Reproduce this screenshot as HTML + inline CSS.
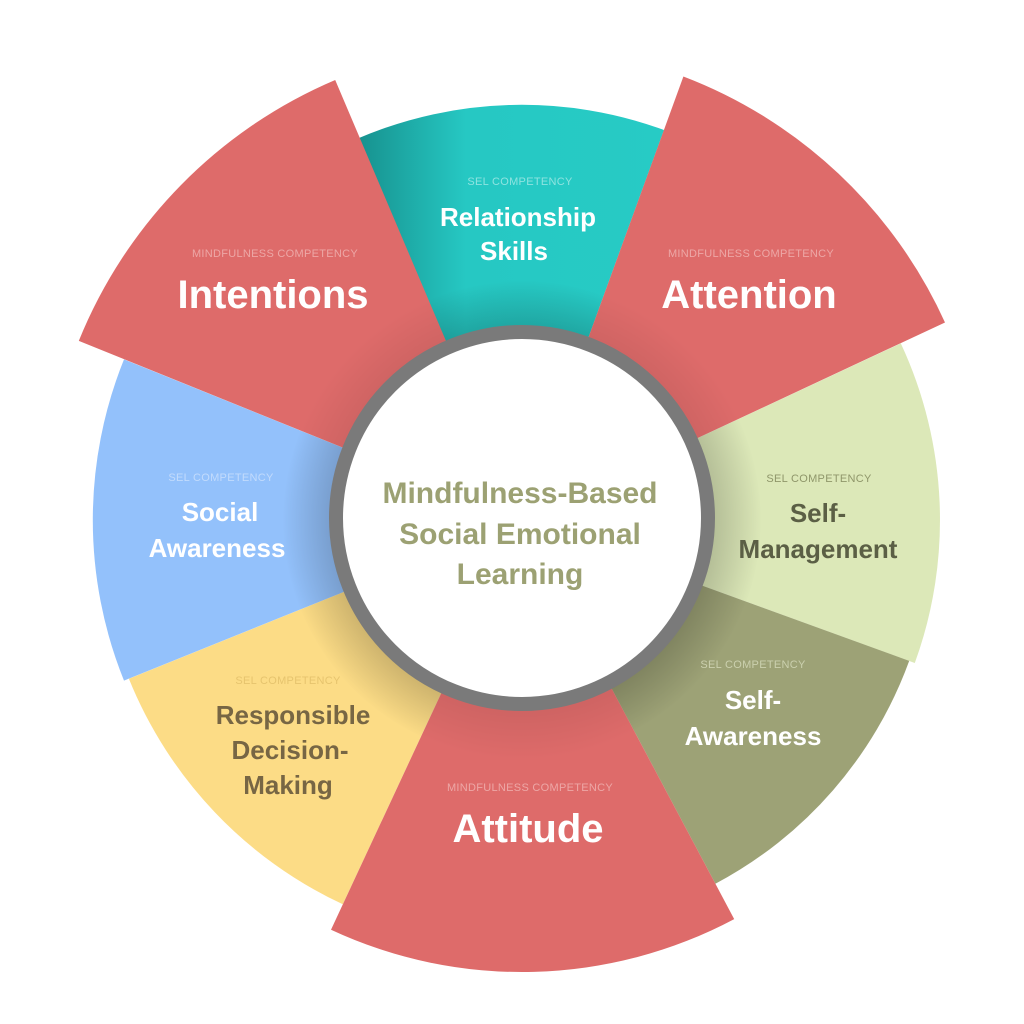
<!DOCTYPE html>
<html><head><meta charset="utf-8"><style>
html,body{margin:0;padding:0;background:#fff;width:1024px;height:1024px;overflow:hidden}
svg{display:block}
text{font-family:"Liberation Sans",sans-serif;text-anchor:middle;font-weight:bold}
.s{font-size:11px;font-weight:normal;letter-spacing:0.3px}
</style></head><body>
<svg width="1024" height="1024" viewBox="0 0 1024 1024" xmlns="http://www.w3.org/2000/svg">
<defs>
<radialGradient id="sh" cx="522" cy="520" r="300" gradientUnits="userSpaceOnUse">
<stop offset="0.62" stop-color="#000" stop-opacity="0.22"/>
<stop offset="0.8" stop-color="#000" stop-opacity="0"/>
</radialGradient>
<linearGradient id="tl" x1="0" y1="0" x2="1" y2="0">
<stop offset="0" stop-color="#17928f"/><stop offset="0.35" stop-color="#26c8c3"/><stop offset="1" stop-color="#27cbc5"/>
</linearGradient>
</defs>
<path d="M522 520 L359 138 A415 415 0 0 1 664 130 Z" fill="url(#tl)"/>
<path d="M522 520 L900.8 343.4 A418 418 0 0 1 914.8 663 Z" fill="#dce8b8"/>
<path d="M522 520 L909.2 660.9 A412 412 0 0 1 715.4 883.8 Z" fill="#9da276"/>
<path d="M522 520 L342.8 904.3 A424 424 0 0 1 128.9 678.8 Z" fill="#fcdc86"/>
<path d="M522 520 L124 680.6 A429 429 0 0 1 124 359.4 Z" fill="#93c1fb"/>
<circle cx="522" cy="520" r="300" fill="url(#sh)" opacity="0.6"/>
<path d="M522 520 L683.4 76.5 A472 472 0 0 1 945 322.5 Z" fill="#de6b6a"/>
<path d="M522 520 L734.2 919.1 A452 452 0 0 1 331 929.7 Z" fill="#de6b6a"/>
<path d="M522 520 L78.8 340.9 A478 478 0 0 1 335.2 80 Z" fill="#de6b6a"/>
<circle cx="522" cy="520" r="260" fill="url(#sh)" opacity="0.35"/>
<circle cx="522" cy="518" r="186" fill="#fff" stroke="#7a7a7a" stroke-width="14"/>
<g fill="#9ca173" font-size="30">
<text x="520" y="503">Mindfulness-Based</text>
<text x="520" y="544">Social Emotional</text>
<text x="520" y="584">Learning</text>
</g>
<text class="s" x="520" y="185" fill="#8ee3e0">SEL COMPETENCY</text>
<text x="518" y="226" fill="#fff" font-size="26">Relationship</text>
<text x="514" y="260" fill="#fff" font-size="26">Skills</text>

<text class="s" x="275" y="257" fill="#eda7a6">MINDFULNESS COMPETENCY</text>
<text x="273" y="308" fill="#fff" font-size="40">Intentions</text>

<text class="s" x="751" y="257" fill="#eda7a6">MINDFULNESS COMPETENCY</text>
<text x="749" y="308" fill="#fff" font-size="40">Attention</text>

<text class="s" x="819" y="482" fill="#8f966a">SEL COMPETENCY</text>
<text x="818" y="522" fill="#5b5f45" font-size="26">Self-</text>
<text x="818" y="558" fill="#5b5f45" font-size="26">Management</text>

<text class="s" x="753" y="668" fill="#cbd0ae">SEL COMPETENCY</text>
<text x="753" y="709" fill="#fff" font-size="26">Self-</text>
<text x="753" y="745" fill="#fff" font-size="26">Awareness</text>

<text class="s" x="530" y="791" fill="#eda7a6">MINDFULNESS COMPETENCY</text>
<text x="528" y="842" fill="#fff" font-size="40">Attitude</text>

<text class="s" x="288" y="684" fill="#e6c46e">SEL COMPETENCY</text>
<text x="293" y="724" fill="#776644" font-size="26">Responsible</text>
<text x="290" y="759" fill="#776644" font-size="26">Decision-</text>
<text x="288" y="794" fill="#776644" font-size="26">Making</text>

<text class="s" x="221" y="481" fill="#c2dbfc">SEL COMPETENCY</text>
<text x="220" y="521" fill="#fff" font-size="26">Social</text>
<text x="217" y="557" fill="#fff" font-size="26">Awareness</text>
</svg>
</body></html>
